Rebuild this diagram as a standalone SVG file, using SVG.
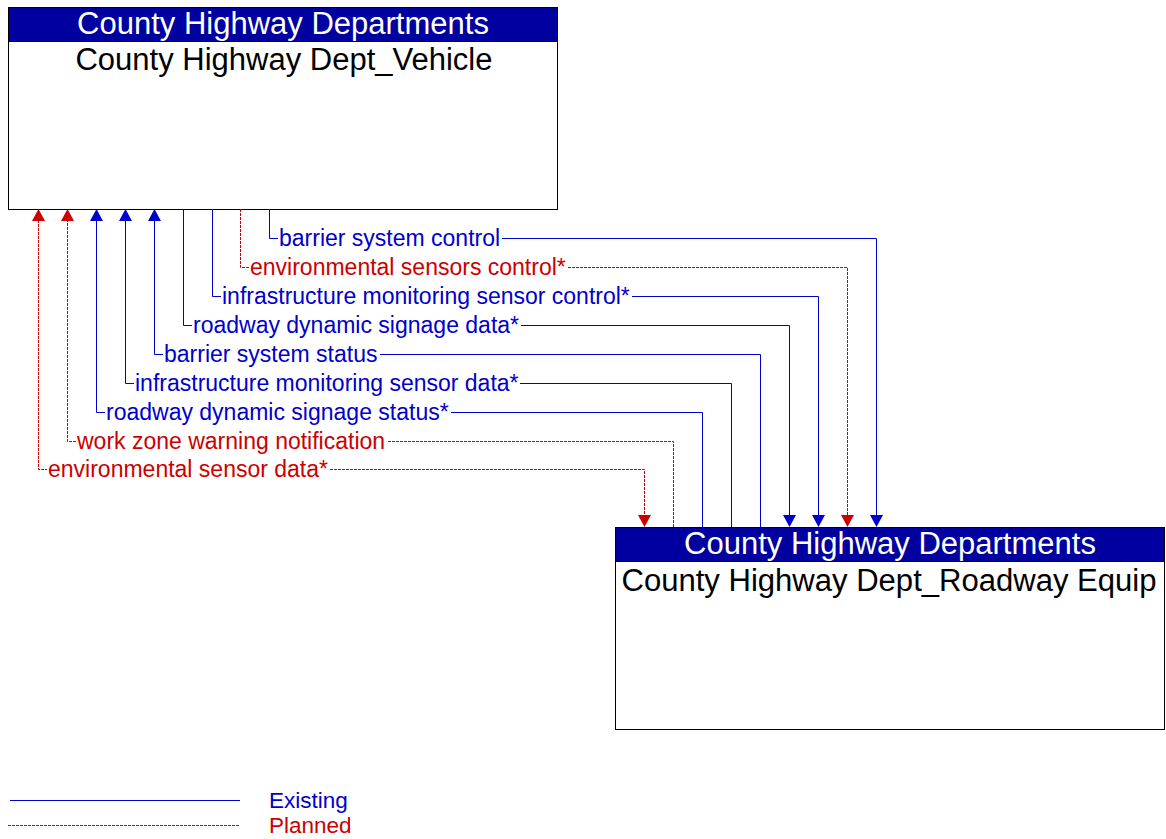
<svg xmlns="http://www.w3.org/2000/svg" width="1166" height="839" viewBox="0 0 1166 839">
<style>
.box{fill:#fff;stroke:#000;stroke-width:1}
.hdr{fill:#0000A0;stroke:#000;stroke-width:1}
.ht{font-family:"Liberation Sans",Arial,sans-serif;font-size:31px;fill:#fff;text-anchor:middle}
.nt{font-family:"Liberation Sans",Arial,sans-serif;font-size:31px;fill:#000;text-anchor:middle}
.ex{fill:none;stroke:#0000CC;stroke-width:1}
.pl{fill:none;stroke:#CC0000;stroke-width:1;stroke-dasharray:3 1}
.lb{font-family:"Liberation Sans",Arial,sans-serif;font-size:23px}
.lbe{fill:#0000CC}
.lbp{fill:#CC0000}
.ab{fill:#0000CC}
.ar{fill:#CC0000}
</style>
<rect width="1166" height="839" fill="#fff"/>
<g id="node-vehicle">
<rect class="box" x="8.5" y="7.5" width="549" height="202"/>
<rect class="hdr" x="8.5" y="7.5" width="549" height="34"/>
<text class="ht" x="283" y="34">County Highway Departments</text>
<text class="nt" x="284" y="70">County Highway Dept_Vehicle</text>
</g>
<g id="node-roadway">
<rect class="box" x="615.5" y="527.5" width="549" height="202"/>
<rect class="hdr" x="615.5" y="527.5" width="549" height="34"/>
<text class="ht" x="890" y="554">County Highway Departments</text>
<text class="nt" x="889" y="591" textLength="535" lengthAdjust="spacingAndGlyphs">County Highway Dept_Roadway Equip</text>
</g>
<g id="connectors">
<!-- barrier system control -->
<path class="ex" d="M269.5 209V238.5H278M502 238.5H876.5V516"/>
<polygon class="ab" points="870,515 883,515 876.5,527"/>
<text class="lb lbe" x="279" y="246">barrier system control</text>
<!-- environmental sensors control -->
<path class="pl" d="M240.5 209V267.5H249M568 267.5H847.5V516"/>
<polygon class="ar" points="841,515 854,515 847.5,527"/>
<text class="lb lbp" x="250" y="275">environmental sensors control*</text>
<!-- infrastructure monitoring sensor control -->
<path class="ex" d="M212.5 209V296.5H221M632 296.5H818.5V516"/>
<polygon class="ab" points="812,515 825,515 818.5,527"/>
<text class="lb lbe" x="222" y="304">infrastructure monitoring sensor control*</text>
<!-- roadway dynamic signage data -->
<path class="ex" d="M183.5 209V325.5H192M521 325.5H789.5V516"/>
<polygon class="ab" points="783,515 796,515 789.5,527"/>
<text class="lb lbe" x="193" y="333">roadway dynamic signage data*</text>
<!-- barrier system status -->
<path class="ex" d="M760.5 527V354.5H380M163 354.5H154.5V220"/>
<polygon class="ab" points="148,221 161,221 154.5,209"/>
<text class="lb lbe" x="164" y="362">barrier system status</text>
<!-- infrastructure monitoring sensor data -->
<path class="ex" d="M731.5 527V383.5H520M134 383.5H125.5V220"/>
<polygon class="ab" points="119,221 132,221 125.5,209"/>
<text class="lb lbe" x="135" y="391">infrastructure monitoring sensor data*</text>
<!-- roadway dynamic signage status -->
<path class="ex" d="M702.5 527V412.5H451M105 412.5H96.5V220"/>
<polygon class="ab" points="90,221 103,221 96.5,209"/>
<text class="lb lbe" x="106" y="420">roadway dynamic signage status*</text>
<!-- work zone warning notification -->
<path class="pl" d="M673.5 527V441.5H387M76 441.5H67.5V220"/>
<polygon class="ar" points="61,221 74,221 67.5,209"/>
<text class="lb lbp" x="77" y="449">work zone warning notification</text>
<!-- environmental sensor data -->
<path class="pl" d="M38.5 220V469.5H47M330 469.5H644.5V516"/>
<polygon class="ar" points="32,221 45,221 38.5,209"/>
<polygon class="ar" points="638,515 651,515 644.5,527"/>
<text class="lb lbp" x="48" y="477">environmental sensor data*</text>
</g>
<g id="legend">
<line class="ex" x1="10" y1="800.5" x2="240" y2="800.5"/>
<line class="pl" x1="8" y1="825.5" x2="240" y2="825.5"/>
<text class="lb lbe" x="269" y="808" style="font-size:22.5px">Existing</text>
<text class="lb lbp" x="269" y="833" style="font-size:22.5px">Planned</text>
</g>
</svg>
